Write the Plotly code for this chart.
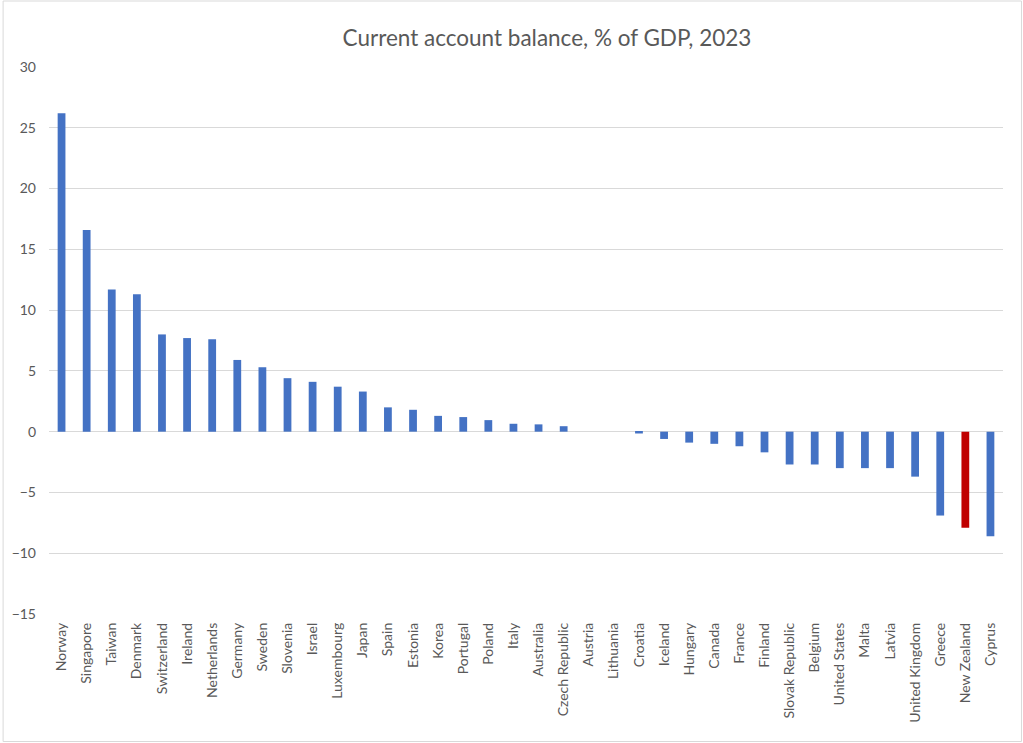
import plotly.graph_objects as go

countries = ["Norway", "Singapore", "Taiwan", "Denmark", "Switzerland", "Ireland",
             "Netherlands", "Germany", "Sweden", "Slovenia", "Israel", "Luxembourg",
             "Japan", "Spain", "Estonia", "Korea", "Portugal", "Poland", "Italy",
             "Australia", "Czech Republic", "Austria", "Lithuania", "Croatia", "Iceland",
             "Hungary", "Canada", "France", "Finland", "Slovak Republic", "Belgium",
             "United States", "Malta", "Latvia", "United Kingdom", "Greece",
             "New Zealand", "Cyprus"]
balance = [26.2, 16.6, 11.7, 11.3, 8.0, 7.7, 7.6, 5.9, 5.3, 4.4, 4.1, 3.7,
           3.3, 2.0, 1.8, 1.3, 1.2, 0.95, 0.65, 0.6, 0.45, 0.0, 0.0, -0.15, -0.6,
           -0.9, -1.0, -1.2, -1.7, -2.7, -2.7, -3.0, -3.0, -3.0, -3.7, -6.9,
           -7.9, -8.6]
highlight = "New Zealand"
y_ticks = [-15, -10, -5, 0, 5, 10, 15, 20, 25, 30]

colors = ["#C00000" if c == highlight else "#4472C4" for c in countries]

W, H = 1023, 743
L, R, T, B = 47, 20, 67, 129
PW, PH = W - L - R, H - T - B

fig = go.Figure(go.Bar(x=countries, y=balance, marker=dict(color=colors, line=dict(width=0)),
                       width=0.31))

fig.update_layout(
    width=W, height=H,
    margin=dict(l=L, r=R, t=T, b=B),
    paper_bgcolor="white", plot_bgcolor="white",
    font=dict(family="Lato, Carlito, sans-serif", size=14, color="#595959"),
    title=dict(text="Current account balance, % of GDP, 2023", xref="container",
               x=547 / W, xanchor="center",
               y=1 - 38 / H, yanchor="middle",
               font=dict(size=22.5, color="#595959")),
    showlegend=False,
    bargap=0.69,
    shapes=[dict(type="rect", xref="paper", yref="paper",
                 x0=(1 - L) / PW, x1=1 + (R - 1.5) / PW,
                 y0=-(B - 1.5) / PH, y1=1 + (T - 1) / PH,
                 line=dict(color="#D9D9D9", width=1), fillcolor="rgba(0,0,0,0)", layer="below")],
)
fig.update_xaxes(tickangle=-90, showgrid=False, showline=False, ticks="",
                 tickfont=dict(size=14, color="#595959"), ticklabelstandoff=5)
fig.update_yaxes(range=[-15, 30], tickvals=y_ticks, showgrid=True, gridcolor="#D9D9D9",
                 gridwidth=1, zeroline=True, zerolinecolor="#D9D9D9", zerolinewidth=1,
                 showline=False, ticks="", tickfont=dict(size=14, color="#595959"),
                 ticklabelstandoff=12)

fig.write_html("out.html", config={"displayModeBar": False},
               post_script="document.body.style.margin='0';document.body.style.overflow='hidden';")
